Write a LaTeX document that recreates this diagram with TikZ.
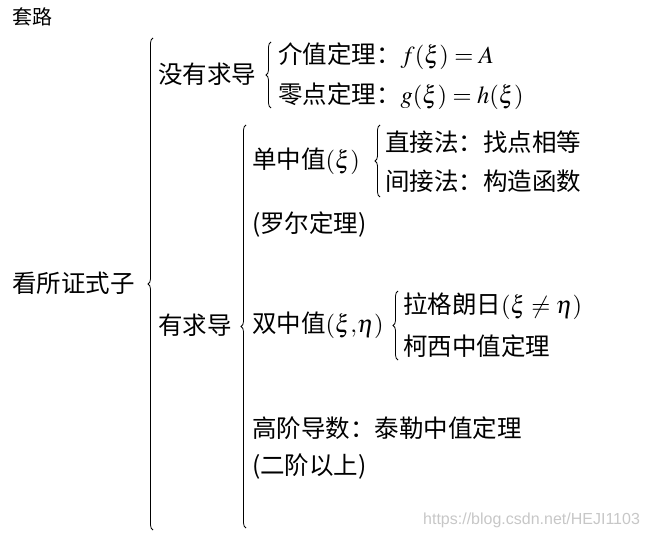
\documentclass[tikz,border=0pt]{standalone}
\usepackage{mathptmx}
\usepackage[no-math]{fontspec}
\setmainfont{Noto Sans CJK SC}
\newfontfamily\urlfont{Liberation Sans}
\usepackage{tikz}
\usetikzlibrary{decorations.pathreplacing}

\tikzset{
  txt/.style={anchor=west,inner sep=0pt,font=\fontsize{24.5}{28}\selectfont},
  lbrace/.style={decorate,decoration={brace,amplitude=5pt},line width=0.8pt},
}

\begin{document}
\begin{tikzpicture}[x=1pt,y=-1pt]
  \useasboundingbox (0,0) rectangle (648,540);
  \node[anchor=west,inner sep=0pt,font=\fontsize{20}{24}\selectfont](title) at (12,17){套路};
  \node[txt](root) at (12,283){看所证式子};
  \draw[lbrace] (153,530)--(153,38);
  \node[txt](noder) at (158,74){没有求导};
  \draw[lbrace] (271,108)--(271,42);
  \node[txt](ivt) at (278,56){介值定理：$f(\xi)=A$};
  \node[txt](zero) at (278,96){零点定理：$g(\xi)=h(\xi)$};
  \node[txt](der) at (158,325){有求导};
  \draw[lbrace] (246,528)--(246,125);
  \node[txt](single) at (252,161){单中值$(\xi)$};
  \draw[lbrace] (380,197)--(380,125);
  \node[txt](direct) at (385,142){直接法：找点相等};
  \node[txt](indirect) at (385,181){间接法：构造函数};
  \node[txt](rolle) at (252,225){(罗尔定理)};
  \node[txt](double) at (252,325){双中值$(\xi{,}\eta)$};
  \draw[lbrace] (398,360)--(398,291);
  \node[txt](lagr) at (403,306){拉格朗日$(\xi\neq\eta)$};
  \node[txt](cauchy) at (403,346){柯西中值定理};
  \node[txt](taylor) at (252,428){高阶导数：泰勒中值定理};
  \node[txt](order) at (252,467){(二阶以上)};
  \node[anchor=west,inner sep=0pt,text=black!22,font=\urlfont\fontsize{16}{18}\selectfont](mark) at (423,520){https://blog.csdn.net/HEJI1103};
\end{tikzpicture}
\end{document}
